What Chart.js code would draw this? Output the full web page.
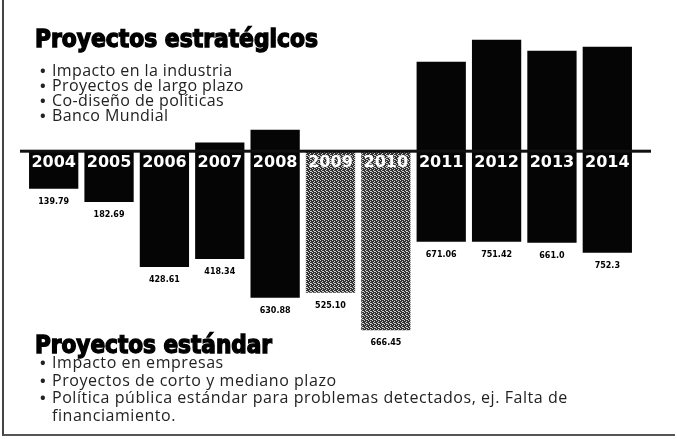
<!DOCTYPE html>
<html>
<head>
<meta charset="utf-8">
<script src="https://cdn.jsdelivr.net/npm/chart.js@4/dist/chart.umd.min.js"></script>
<style>
  html, body { margin:0; padding:0; background:#fff; }
  #wrap { position:relative; width:677px; height:439px; overflow:hidden; background:#fff; }
  #c { position:absolute; left:0; top:0; }
  .frame { position:absolute; left:2px; top:0; width:673px; height:436px; border-left:2px solid #444; border-bottom:2px solid #555; box-sizing:border-box; pointer-events:none; }
  .head { position:absolute; left:35px; font-family:"Liberation Sans Narrow","DejaVu Sans Condensed","Liberation Sans",sans-serif; font-weight:bold; font-size:24px; line-height:24px; color:#000; white-space:nowrap; transform-origin:0 0; -webkit-text-stroke:1.3px #000; }
  .list { position:absolute; left:40px; font-family:"Open Sans","Noto Sans",sans-serif; font-size:16px; letter-spacing:0.4px; color:#222; white-space:nowrap; margin:0; padding:0; list-style:none; }
  .list li::before { content:"\2022"; display:inline-block; width:12px; font-size:15px; font-weight:bold; }
  .list li.cont::before { content:""; }
</style>
</head>
<body>
<div id="wrap">
  <canvas id="c" width="677" height="439"></canvas>
  <div class="head" id="h1" style="top:27px">Proyectos estratégicos</div>
  <ul class="list" style="top:63px; line-height:15px">
    <li>Impacto en la industria</li>
    <li>Proyectos de largo plazo</li>
    <li>Co-diseño de políticas</li>
    <li>Banco Mundial</li>
  </ul>
  <div class="head" id="h2" style="top:333px">Proyectos estándar</div>
  <ul class="list" style="top:354px; line-height:17.5px; letter-spacing:0.55px">
    <li>Impacto en empresas</li>
    <li>Proyectos de corto y mediano plazo</li>
    <li>Política pública estándar para problemas detectados, ej. Falta de</li>
    <li class="cont">financiamiento.</li>
  </ul>
  <div class="frame"></div>
</div>
<script>
// ---- data ----
const years = ['2004','2005','2006','2007','2008','2009','2010','2011','2012','2013','2014'];
// extent of each bar above the central band (value units)
const aboveBand = [0, 0, 0, 34, 82, 0, 0, 336, 418, 377, 392];
// extent of each bar below the central band (value units, negative)
const belowBand = [-138, -188, -430, -400, -545, -526, -666, -336, -336, -340, -377];
// printed value labels under each bar
const valueLabels = ['139.79','182.69','428.61','418.34','630.88','525.10','666.45','671.06','751.42','661.0','752.3'];
// bars shown with a grey screen (dithered) rather than solid black
const screened = [false,false,false,false,false,true,true,false,false,false,false];

// dithered grey pattern
function makePattern(){
  const p = document.createElement('canvas'); p.width = 4; p.height = 4;
  const g = p.getContext('2d');
  g.fillStyle = '#333'; g.fillRect(0,0,4,4);
  g.fillStyle = '#d0d0d0';
  [[0,0],[2,1],[1,2],[3,3],[2,3]].forEach(([x,y]) => g.fillRect(x,y,1,1));
  return g.createPattern(p, 'repeat');
}
const pat = makePattern();
const colors = screened.map(s => s ? pat : '#050505');
const barData = years.map((y,i) => [belowBand[i], aboveBand[i]]);

const bandPlugin = {
  id: 'band',
  afterDatasetsDraw(chart){
    const {ctx, chartArea, scales} = chart;
    const y0 = scales.y.getPixelForValue(0);
    ctx.save();
    ctx.fillStyle = '#111';
    ctx.fillRect(chartArea.left - 6, y0 - 2, chartArea.right - chartArea.left + 22, 3);
    // year labels just under the band, on top of the bars
    ctx.font = 'bold 16px "DejaVu Sans", sans-serif';
    ctx.fillStyle = '#fff';
    ctx.textAlign = 'center';
    ctx.textBaseline = 'top';
    chart.data.labels.forEach((lab, i) => {
      ctx.fillText(lab, scales.x.getPixelForValue(i), y0 + 3);
    });
    ctx.restore();
  }
};
const valuePlugin = {
  id: 'values',
  afterDraw(chart){
    const {ctx} = chart;
    const meta = chart.getDatasetMeta(0);
    ctx.save();
    ctx.font = 'bold 8px "DejaVu Sans", sans-serif';
    ctx.fillStyle = '#000';
    ctx.textAlign = 'center';
    ctx.textBaseline = 'middle';
    meta.data.forEach((el, i) => {
      const bottom = Math.max(el.y, el.base);
      ctx.fillText(valueLabels[i], el.x, bottom + 13);
    });
    ctx.restore();
  }
};

new Chart(document.getElementById('c'), {
  type: 'bar',
  data: {
    labels: years,
    datasets: [{
      data: barData,
      backgroundColor: colors,
      borderWidth: 0,
      barPercentage: 0.89,
      categoryPercentage: 1.0
    }]
  },
  options: {
    responsive: false,
    animation: false,
    layout: { padding: { left: 26, right: 42, top: 0, bottom: 0 } },
    plugins: { legend: { display: false }, tooltip: { enabled: false }, title: { display: false } },
    scales: {
      y: { display: false, min: -1072, max: 566 },
      x: { display: false, offset: true }
    }
  },
  plugins: [bandPlugin, valuePlugin]
});

// fit headings to measured widths
function fit(id, w){ const el = document.getElementById(id); const r = el.getBoundingClientRect().width; el.style.transform = 'scaleX(' + (w / r) + ')'; }
fit('h1', 283);
fit('h2', 237);
</script>
</body>
</html>
